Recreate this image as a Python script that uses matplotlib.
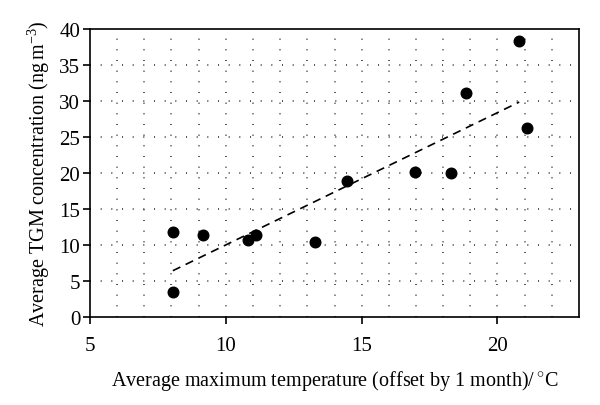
import numpy as np
import matplotlib
matplotlib.use("Agg")
import matplotlib.pyplot as plt

# values
temp = [8.05, 8.05, 9.15, 10.8, 11.1, 13.3, 14.45, 16.95, 18.3, 18.85, 20.8, 21.1]
tgm = [11.8, 3.5, 11.4, 10.7, 11.4, 10.4, 18.9, 20.1, 20.0, 31.1, 38.3, 26.2]
fit_range = [8.05, 20.8]

x_ticks = [5, 10, 15, 20]
y_ticks = [0, 5, 10, 15, 20, 25, 30, 35, 40]

plt.rcParams['font.family'] = ['Liberation Serif', 'DejaVu Serif']
plt.rcParams['mathtext.fontset'] = 'custom'
plt.rcParams['mathtext.rm'] = 'Liberation Serif'

fig = plt.figure(figsize=(6, 4.06), dpi=100)
ax = fig.add_axes([0.15, 0.2167, 0.815, 0.709])

# dotted grid: every 1 degree vertically, every 5 units horizontally
for xv in np.arange(6, 23):
    ax.axvline(xv, color='#333333', lw=1.2, linestyle=(0, (0.6, 5.8)), zorder=0)
for yv in y_ticks[1:-1]:
    ax.axhline(yv, color='#333333', lw=1.2, linestyle=(0, (0.6, 5.8)), zorder=0)

slope, icpt = np.polyfit(temp, tgm, 1)
fx = np.array(fit_range)
ax.plot(fx, slope * fx + icpt, color='black', lw=1.2, linestyle=(0, (5, 3.5)))

ax.scatter(temp, tgm, s=58, color='black', zorder=3)

ax.set_xlim(5, 23)
ax.set_ylim(0, 40)
ax.set_xticks(x_ticks)
ax.set_yticks(y_ticks)
ax.tick_params(direction='out', length=5, width=1.2, labelsize=15)
ax.tick_params(axis='x', pad=9)
ax.tick_params(axis='y', pad=2)
for s in ax.spines.values():
    s.set_linewidth(1.2)

ax.set_xlabel('Average maximum temperature (offset by 1 month)/$\\,^{\\circ}$C', fontsize=14.5, labelpad=9)
ax.set_ylabel('Average TGM concentration (ng$\\,$m$^{-3}$)', fontsize=14.5, labelpad=5)

fig.savefig('out.png', dpi=100)
